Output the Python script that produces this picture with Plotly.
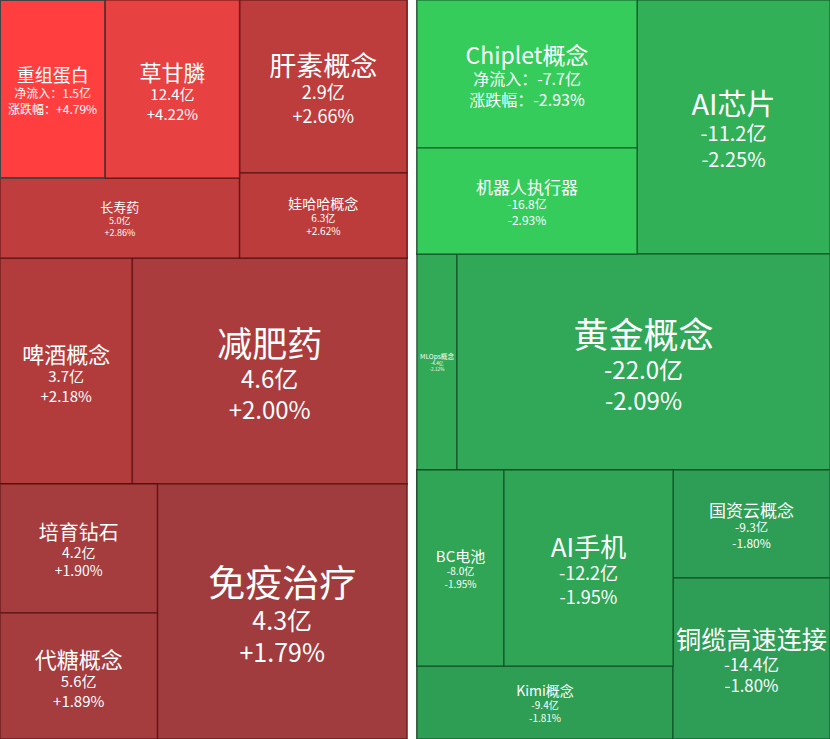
import plotly.graph_objects as go

# 资金净流入板块（红）
up_names = ["重组蛋白", "草甘膦", "长寿药", "肝素概念", "娃哈哈概念",
            "啤酒概念", "减肥药", "培育钻石", "代糖概念", "免疫治疗"]
up_flow = [1.5, 12.4, 5.0, 2.9, 6.3, 3.7, 4.6, 4.2, 5.6, 4.3]  # 亿
up_pct = [4.79, 4.22, 2.86, 2.66, 2.62, 2.18, 2.00, 1.90, 1.89, 1.79]
up_area = [18690, 23852, 19120, 28891, 14195, 29832, 61924, 20253, 19782, 63495]
up_group = ["A1a", "A1a", "A1", "A2", "A2", "B", "B", "C1", "C1", "C"]

# 资金净流出板块（绿）
down_names = ["Chiplet概念", "机器人执行器", "AI芯片", "MLOps概念", "黄金概念",
              "BC电池", "AI手机", "Kimi概念", "国资云概念", "铜缆高速连接"]
down_flow = [-7.7, -16.8, -11.2, -4.4, -22.0, -8.0, -12.2, -9.4, -9.3, -14.4]
down_pct = [-2.93, -2.93, -2.25, -2.12, -2.09, -1.95, -1.95, -1.81, -1.80, -1.80]
down_area = [32560, 23320, 49022, 8640, 80568, 17052, 33124, 18688, 16956, 25277]
down_group = ["D1", "D1", "D", "E", "E", "F1a", "F1a", "F1", "F2", "F2"]

# block nesting (group, parent group)
up_blocks = [("A", ""), ("A1", "A"), ("A1a", "A1"), ("A2", "A"),
             ("B", ""), ("C", ""), ("C1", "C")]
down_blocks = [("D", ""), ("D1", "D"), ("E", ""), ("F", ""),
               ("F1", "F"), ("F1a", "F1"), ("F2", "F")]

# label font size per tile
up_label_px = [18, 22, 13, 27, 14, 22, 35, 20, 22, 37]
down_label_px = [23, 17, 29, 7, 35, 15, 26, 14, 17, 27]

FONT = "Noto Sans CJK SC"


def tile_text(i, name, flow, pct, px):
    head = "<span style='font-size:%dpx'>%s</span>" % (px, name)
    if i == 0:
        return "%s<br>净流入：%.1f亿<br>涨跌幅：%+.2f%%" % (head, flow, pct)
    return "%s<br>%.1f亿<br>%+.2f%%" % (head, flow, pct)


def make_trace(root, names, flow, pct, area, group, blocks, label_px,
               scale, cmin, cmax, line_color, xdom):
    n_top = 1 + len(blocks)
    ids = [root] + [b for b, _ in blocks] + names
    parents = [""] + [p or root for _, p in blocks] + group
    values = [0] * n_top + area
    colors = [pct[0]] * n_top + pct
    texts = [""] * n_top + [tile_text(i, names[i], flow[i], pct[i], label_px[i])
                            for i in range(len(names))]
    sizes = [10] * n_top + [round(p * 0.68) for p in label_px]
    widths = [0] + [1.5] * (n_top - 1 + len(names))
    return go.Treemap(
        ids=ids, labels=ids, parents=parents, values=values,
        text=texts, texttemplate="%{text}",
        textposition="middle center",
        textfont=dict(family=FONT, color="white", size=sizes),
        sort=False,
        tiling=dict(packing="dice-slice", pad=0),
        marker=dict(colors=colors, colorscale=scale, cmin=cmin, cmax=cmax,
                    showscale=False, depthfade=False,
                    pad=dict(t=0, l=0, r=0, b=0),
                    line=dict(color=line_color, width=widths)),
        pathbar=dict(visible=False),
        hoverinfo="skip",
        domain=dict(x=xdom, y=[0, 1]),
    )


red_scale = [[0, "#A03C3E"], [0.07, "#AA3C3D"], [0.13, "#B23C3C"],
             [0.29, "#BD3C3C"], [0.36, "#C03D3D"], [0.81, "#E74141"],
             [1, "#FF3F3F"]]
green_scale = [[0, "#35CC5C"], [0.6, "#32B058"], [0.74, "#31A857"],
               [0.87, "#30A556"], [1, "#2E9D55"]]

fig = go.Figure()
fig.add_trace(make_trace("L", up_names, up_flow, up_pct, up_area, up_group,
                         up_blocks, up_label_px, red_scale, 1.79, 4.79,
                         "rgba(70,10,10,0.55)", [0, 407 / 830]))
fig.add_trace(make_trace("R", down_names, down_flow, down_pct, down_area,
                         down_group, down_blocks, down_label_px, green_scale,
                         -2.93, -1.80, "rgba(10,60,25,0.55)", [417 / 830, 1]))

fig.update_layout(
    width=830, height=739,
    margin=dict(l=0, r=0, t=0, b=0),
    paper_bgcolor="white",
    font=dict(family=FONT),
)

# drop the browser's default 8px page margin so the chart sits flush
fig.write_html("out.html", config={"displayModeBar": False},
               post_script="document.body.style.margin='0';")
